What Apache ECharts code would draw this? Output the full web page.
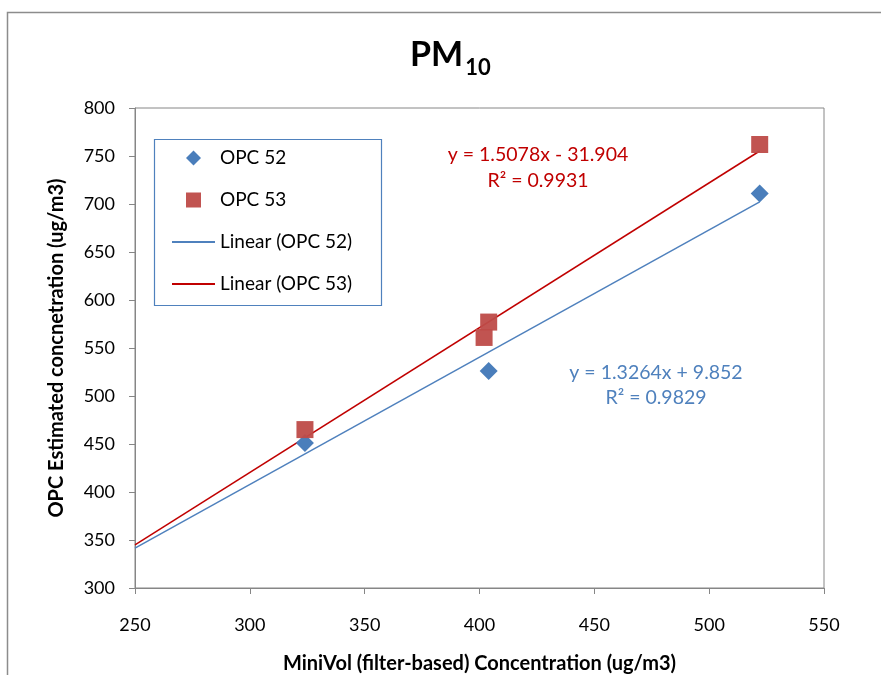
<!DOCTYPE html>
<html><head><meta charset="utf-8">
<script src="https://cdn.jsdelivr.net/npm/echarts@6/dist/echarts.min.js"></script>
<style>html,body{margin:0;padding:0;background:#fff}#c{width:881px;height:675px}</style>
</head><body><div id="c"></div>
<script>
// Data
const opc52X = [324, 404, 522];
const opc52Y = [451, 526, 711];
const opc53X = [324, 402, 404, 522];
const opc53Y = [465, 561, 577, 762];
const trendX = [250, 522];
const trend52Y = [341.5, 702.3];
const trend53Y = [345.0, 755.2];
const xTicks = [250, 300, 350, 400, 450, 500, 550];
const yTicks = [300, 350, 400, 450, 500, 550, 600, 650, 700, 750, 800];
const eq52 = ['y = 1.3264x + 9.852', 'R² = 0.9829'];
const eq53 = ['y = 1.5078x - 31.904', 'R² = 0.9931'];

const FONT = 'Lato, "Open Sans", sans-serif';
const BLUE = '#4A7EBB', RED_M = '#BE4B48', RED_L = '#C00000', BLUE_L = '#4F81BD';
const pair = (xs, ys) => xs.map((x, i) => [x, ys[i]]);
const LEG_TEXT = { fontFamily: FONT, fontSize: 19, lineHeight: 20, color: '#000' };

const chart = echarts.init(document.getElementById('c'));
chart.setOption({
  animation: false,
  backgroundColor: '#fff',
  title: {
    text: '{a|PM}{b|10}', left: 405, top: 26,
    textStyle: { rich: {
      a: { fontFamily: FONT, fontWeight: 'bold', fontSize: 34, color: '#000' },
      b: { fontFamily: FONT, fontWeight: 'bold', fontSize: 22, color: '#000', padding: [26, 0, 0, 2] }
    } }
  },
  grid: { left: 135, right: 57, top: 108, bottom: 87, show: true, borderColor: '#868686', borderWidth: 1,
          containLabel: false, outerBoundsMode: 'none' },
  xAxis: {
    type: 'value', min: xTicks[0], max: xTicks[xTicks.length - 1], interval: 50,
    name: 'MiniVol (filter-based) Concentration (ug/m3)', nameLocation: 'middle', nameGap: 66,
    nameTextStyle: { fontFamily: FONT, fontWeight: 'bold', fontSize: 20, color: '#000' },
    axisLine: { lineStyle: { color: '#868686' } },
    axisTick: { show: true, length: 6, lineStyle: { color: '#868686' } },
    axisLabel: { fontFamily: FONT, fontSize: 18, color: '#000', margin: 28 },
    splitLine: { show: false }
  },
  yAxis: {
    type: 'value', min: yTicks[0], max: yTicks[yTicks.length - 1], interval: 50,
    name: 'OPC Estimated concnetration (ug/m3)', nameLocation: 'middle', nameGap: 68,
    nameTextStyle: { fontFamily: FONT, fontWeight: 'bold', fontSize: 20, color: '#000' },
    axisLine: { show: true, lineStyle: { color: '#868686' } },
    axisTick: { show: true, length: 6, lineStyle: { color: '#868686' } },
    axisLabel: { fontFamily: FONT, fontSize: 18, color: '#000', margin: 20 },
    splitLine: { show: false }
  },
  legend: [
    {
      orient: 'vertical', left: 186, top: 148, padding: 0,
      itemGap: 22, itemWidth: 15, itemHeight: 15,
      textStyle: Object.assign({ padding: [0, 0, 0, 14] }, LEG_TEXT),
      data: [ { name: 'OPC 52', icon: 'diamond' }, { name: 'OPC 53', icon: 'rect' } ]
    },
    {
      orient: 'vertical', left: 172, top: 232, padding: 0,
      itemGap: 22, itemWidth: 43, itemHeight: 2,
      textStyle: LEG_TEXT,
      data: [
        { name: 'Linear (OPC 52)', icon: 'path://M0,0L43,0L43,2L0,2Z' },
        { name: 'Linear (OPC 53)', icon: 'path://M0,0L43,0L43,2L0,2Z' }
      ]
    }
  ],
  series: [
    { name: 'Linear (OPC 52)', type: 'line', data: pair(trendX, trend52Y), symbol: 'none', showSymbol: false,
      lineStyle: { color: BLUE_L, width: 1.5 }, itemStyle: { color: BLUE_L }, z: 2 },
    { name: 'Linear (OPC 53)', type: 'line', data: pair(trendX, trend53Y), symbol: 'none', showSymbol: false,
      lineStyle: { color: RED_L, width: 1.5 }, itemStyle: { color: RED_L }, z: 2 },
    { name: 'OPC 52', type: 'scatter', data: pair(opc52X, opc52Y), symbol: 'diamond', symbolSize: 18,
      itemStyle: { color: BLUE, opacity: 1 }, z: 3 },
    { name: 'OPC 53', type: 'scatter', data: pair(opc53X, opc53Y), symbol: 'rect', symbolSize: 17,
      itemStyle: { color: RED_M, opacity: 0.95 }, z: 3 }
  ],
  graphic: [
    { type: 'rect', left: 5, top: 10, shape: { width: 900, height: 700 }, style: { fill: 'none', stroke: '#8c8c8c', lineWidth: 1.5 }, silent: true, z: -10 },
    { type: 'rect', left: 152, top: 137, shape: { width: 227, height: 166 }, style: { fill: 'none', stroke: '#4F81BD', lineWidth: 1.2 }, silent: true, z: -5 },
    { type: 'text', x: 538, y: 155, style: { text: eq53[0], fontFamily: FONT, fontSize: 19.5, fill: RED_L, align: 'center', verticalAlign: 'middle' } },
    { type: 'text', x: 538, y: 181, style: { text: eq53[1], fontFamily: FONT, fontSize: 19.5, fill: RED_L, align: 'center', verticalAlign: 'middle' } },
    { type: 'text', x: 656, y: 373, style: { text: eq52[0], fontFamily: FONT, fontSize: 19.5, fill: BLUE_L, align: 'center', verticalAlign: 'middle' } },
    { type: 'text', x: 656, y: 398, style: { text: eq52[1], fontFamily: FONT, fontSize: 19.5, fill: BLUE_L, align: 'center', verticalAlign: 'middle' } }
  ]
});
</script></body></html>
